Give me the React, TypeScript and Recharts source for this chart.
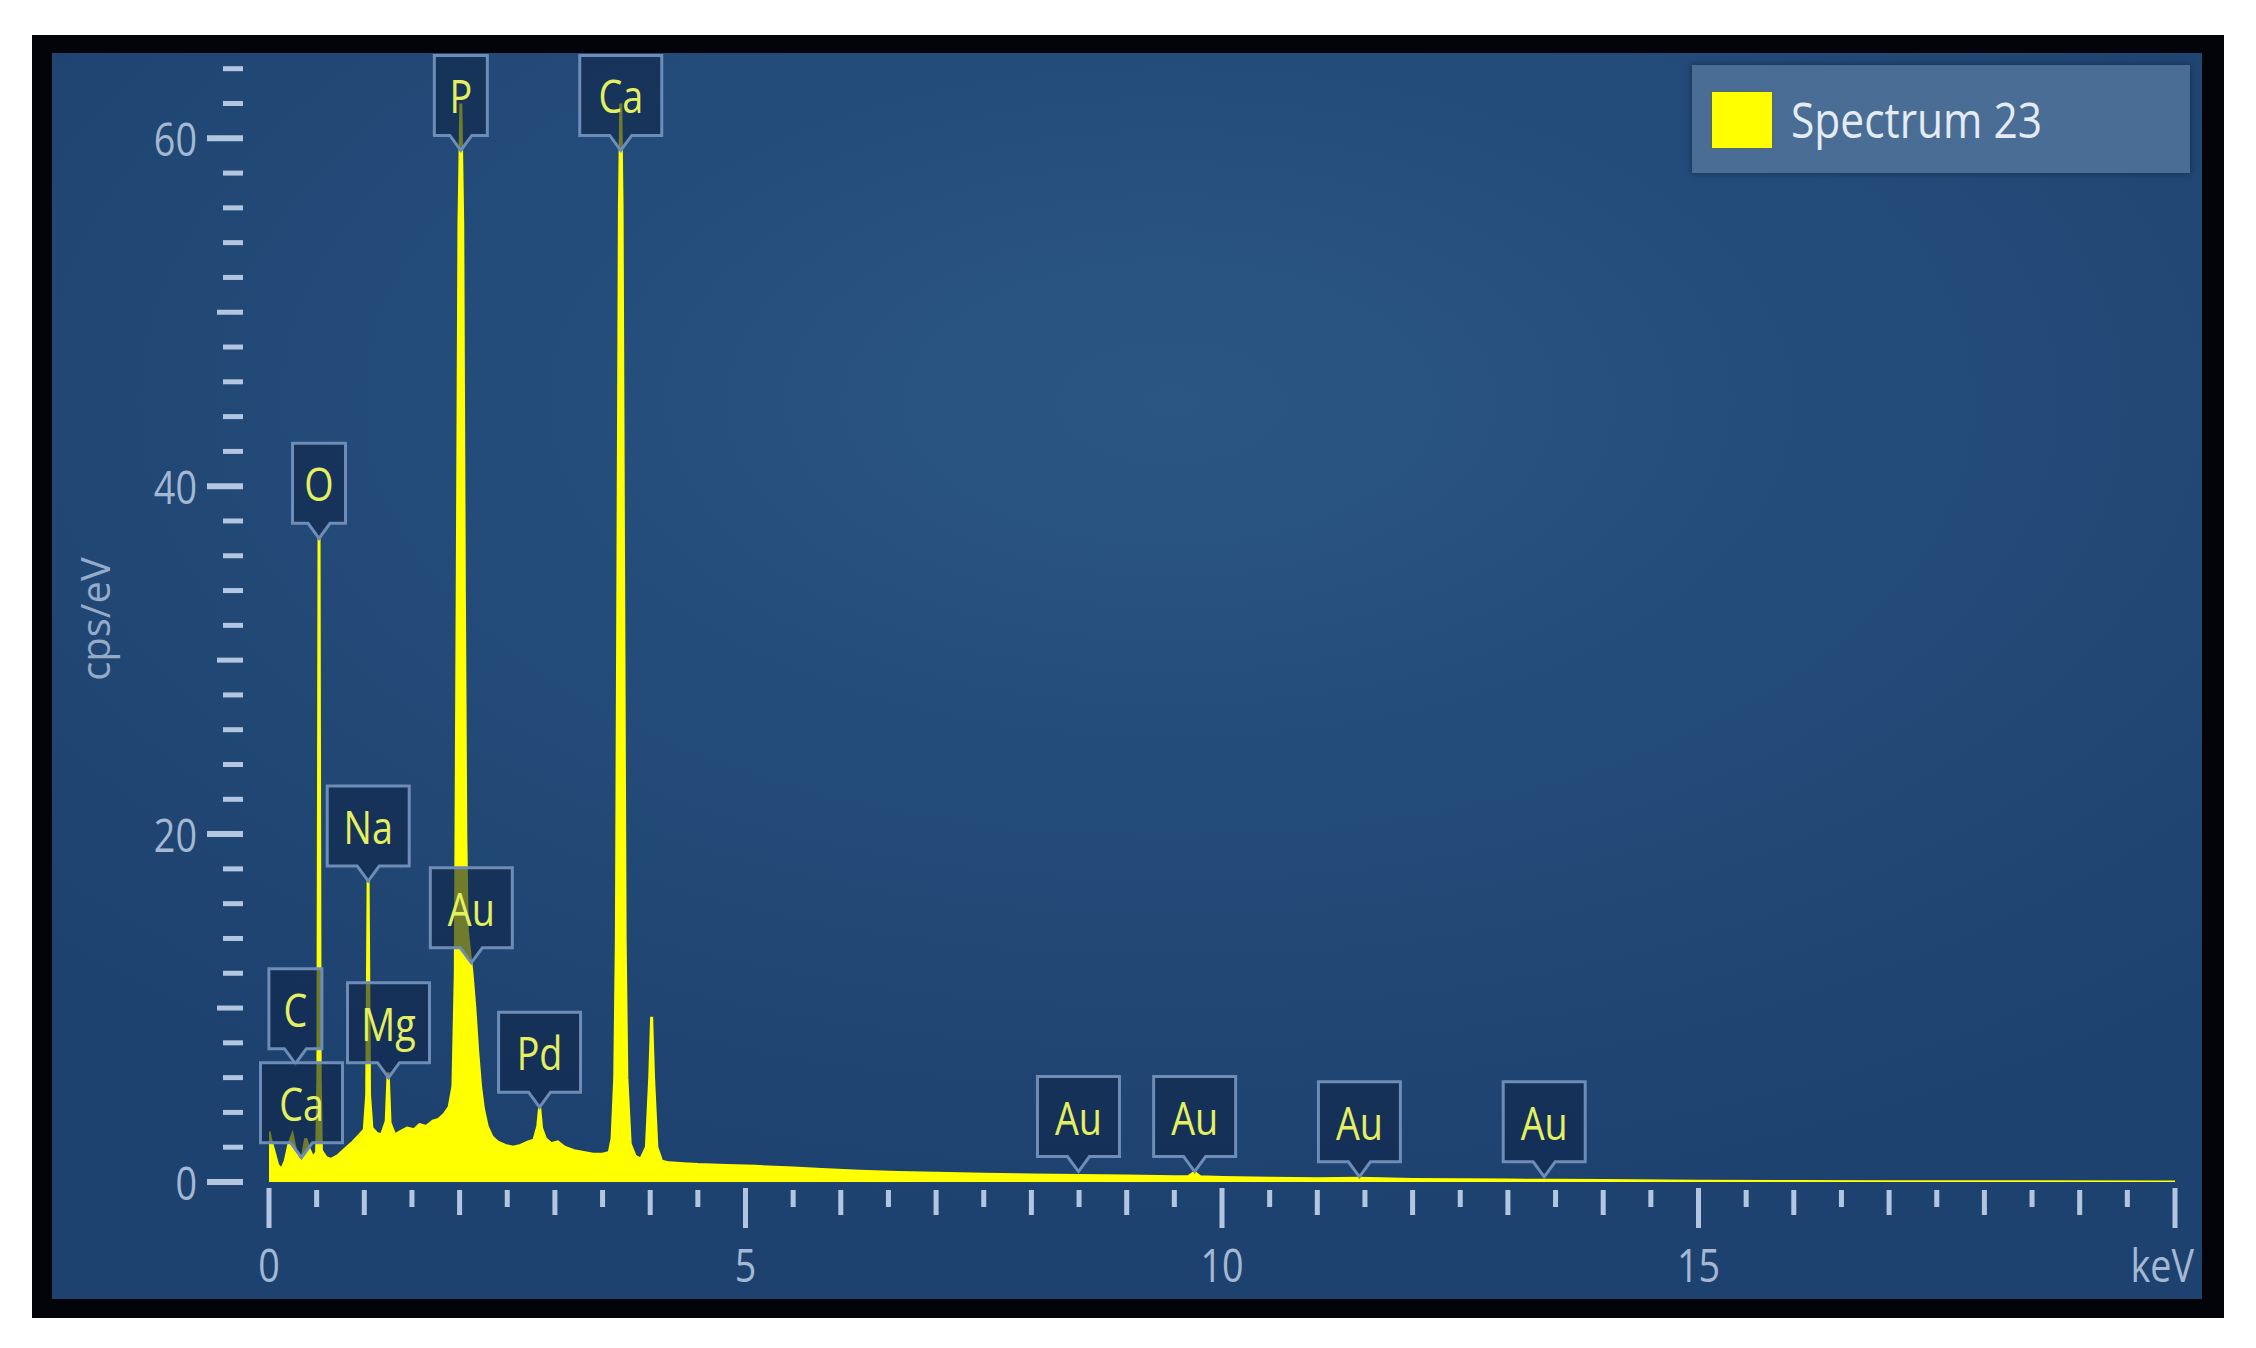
import React from "react";
import { AreaChart, Area, XAxis, YAxis, ReferenceDot } from "recharts";

// spectrum (keV / cps per eV)
const energies = [
  0.0, 0.02, 0.05, 0.09, 0.13, 0.17, 0.21, 0.245, 0.28, 0.32, 0.355, 0.385, 0.42, 0.46,
  0.5, 0.513, 0.525, 0.537, 0.55, 0.6, 0.65, 0.72, 0.8, 0.88, 0.95, 1.0, 1.025, 1.04,
  1.055, 1.08, 1.13, 1.18, 1.23, 1.25, 1.27, 1.32, 1.38, 1.45, 1.52, 1.58, 1.65, 1.72,
  1.78, 1.84, 1.89, 1.93, 1.955, 1.975, 1.993, 2.013, 2.033, 2.05, 2.065, 2.08, 2.11, 2.13,
  2.16, 2.19, 2.22, 2.25, 2.29, 2.34, 2.4, 2.48, 2.56, 2.64, 2.72, 2.78, 2.82, 2.84,
  2.86, 2.9, 2.96, 3.03, 3.1, 3.2, 3.3, 3.4, 3.5, 3.57, 3.6, 3.628, 3.645, 3.662, 3.677,
  3.691, 3.705, 3.72, 3.737, 3.755, 3.79, 3.84, 3.9, 3.96, 3.995, 4.015, 4.035, 4.07,
  4.12, 4.2, 4.35, 4.5, 4.8, 5.1, 5.5, 5.8, 6.2, 6.6, 7.0, 7.5, 8.0, 8.5, 9.0, 9.5,
  9.65, 9.71, 9.77, 10.0, 10.5, 11.0, 11.44, 12.0, 12.5, 13.0, 13.5, 14.0, 15.0, 16.0,
  17.0, 18.0, 20.0,
];
const counts = [
  2.9, 2.4, 1.8, 1.0, 0.7, 1.2, 2.2, 2.7, 1.8, 1.1, 1.6, 2.5, 1.9, 1.4,
  1.7, 6.0, 37.0, 6.0, 1.8, 1.4, 1.3, 1.5, 1.9, 2.3, 2.7, 3.0, 5.0, 17.3,
  5.0, 3.1, 2.8, 2.7, 3.5, 6.3, 3.4, 2.7, 2.9, 3.1, 3.0, 3.3, 3.2, 3.5,
  3.6, 3.9, 4.3, 5.5, 12, 34, 55, 62, 55, 34, 20, 14.5, 13, 12,
  10, 7.5, 5.5, 4.2, 3.2, 2.6, 2.3, 2.1, 2.0, 2.1, 2.3, 2.4, 3.2, 4.3,
  3.1, 2.5, 2.2, 2.3, 2.0, 1.8, 1.7, 1.6, 1.6, 1.7, 2.5, 6.0, 14, 36, 56,
  62, 56, 36, 14, 6.0, 2.2, 1.5, 1.3, 2.0, 6.0, 9.5, 6.0, 2.0,
  1.2, 1.1, 1.05, 1.0, 0.95, 0.9, 0.8, 0.72, 0.62, 0.55, 0.5, 0.45, 0.4, 0.38, 0.34, 0.3,
  0.32, 0.55, 0.3, 0.26, 0.22, 0.19, 0.22, 0.15, 0.13, 0.11, 0.1, 0.08, 0.05, 0.03,
  0.02, 0.01, 0.0,
];

// element tags: name, line energy, cps at the tag's pointer
const peakNames = ["C", "Ca", "O", "Na", "Mg", "P", "Au", "Pd", "Ca", "Au", "Au", "Au", "Au"];
const peakEnergies = [0.277, 0.341, 0.525, 1.041, 1.254, 2.013, 2.123, 2.839, 3.691, 8.494, 9.713, 11.442, 13.381];
const peakTips = [6.8, 1.4, 37.0, 17.3, 6.0, 59.3, 12.6, 4.3, 59.3, 0.6, 0.6, 0.3, 0.3];

const xTicks = [
  0, 0.5, 1, 1.5, 2, 2.5, 3, 3.5, 4, 4.5, 5, 5.5, 6, 6.5, 7, 7.5, 8, 8.5, 9, 9.5, 10,
  10.5, 11, 11.5, 12, 12.5, 13, 13.5, 14, 14.5, 15, 15.5, 16, 16.5, 17, 17.5, 18, 18.5,
  19, 19.5, 20,
];
const xTickLabels: Record<number, string> = { 0: "0", 5: "5", 10: "10", 15: "15", 20: "keV" };
const yTicks = [
  0, 2, 4, 6, 8, 10, 12, 14, 16, 18, 20, 22, 24, 26, 28, 30, 32, 34, 36, 38, 40, 42, 44,
  46, 48, 50, 52, 54, 56, 58, 60, 62, 64,
];
const yTickLabels: Record<number, string> = { 0: "0", 20: "20", 40: "40", 60: "60" };

const data = energies.map((e, i) => ({ keV: e, cps: counts[i] }));

const TICK = "#b2c6e0";
const LABEL = "#a3b8d3";
const FONT = "'Open Sans', sans-serif";

const YTick = (props: any) => {
  const { x, y, payload } = props;
  const v = payload.value;
  const major = v % 20 === 0;
  const mid = v % 10 === 0;
  const x1 = major ? x - 62 : mid ? x - 52 : x - 46;
  return (
    <g>
      <line x1={x1} x2={x - 26} y1={y} y2={y} stroke={TICK} strokeWidth={major ? 6 : 5} />
      {yTickLabels[v] !== undefined && (
        <text
          transform={`translate(${x - 72},${y}) scale(0.82,1)`}
          textAnchor="end"
          dominantBaseline="central"
          fontSize={46}
          fontFamily={FONT}
          fill={LABEL}
        >
          {yTickLabels[v]}
        </text>
      )}
    </g>
  );
};

const XTick = (props: any) => {
  const { x, y, payload } = props;
  const v = payload.value;
  const major = v % 5 === 0;
  const whole = Number.isInteger(v);
  const y1 = y + (major ? 6 : 8);
  const y2 = y + (major ? 46 : whole ? 33 : 25);
  const label = xTickLabels[v];
  const isUnit = label === "keV";
  return (
    <g>
      <line x1={x} x2={x} y1={y1} y2={y2} stroke={TICK} strokeWidth={5} />
      {label !== undefined && (
        <text
          transform={`translate(${isUnit ? x + 19 : x},${y + 82}) scale(0.82,1)`}
          textAnchor={isUnit ? "end" : "middle"}
          dominantBaseline="central"
          fontSize={46}
          fontFamily={FONT}
          fill={LABEL}
        >
          {label}
        </text>
      )}
    </g>
  );
};

const peakTag = (name: string) => (props: any) => {
  const { cx, cy } = props;
  const w = 24 + 29 * name.length;
  const bodyH = 80;
  const tipH = 15;
  const bottom = cy - tipH;
  const top = bottom - bodyH;
  const l = cx - w / 2;
  const r = cx + w / 2;
  const d = `M${l},${top} H${r} V${bottom} H${cx + 11} L${cx},${cy} L${cx - 11},${bottom} H${l} Z`;
  return (
    <g>
      <path d={d} fill="#0f2547" fillOpacity={0.6} stroke="#6d8cb6" strokeWidth={3} />
      <text
        transform={`translate(${cx},${top + bodyH / 2}) scale(0.82,1)`}
        textAnchor="middle"
        dominantBaseline="central"
        fontSize={46}
        fontFamily={FONT}
        fill="#e4f060"
      >
        {name}
      </text>
    </g>
  );
};

export default function App() {
  return (
    <div
      style={{
        position: "absolute",
        left: 0,
        top: 0,
        width: 2256,
        height: 1348,
        background: "#ffffff",
        fontFamily: FONT,
        overflow: "hidden",
      }}
    >
      <div style={{ position: "absolute", left: 32, top: 35, width: 2192, height: 1283, background: "#03040a" }} />
      <div
        style={{
          position: "absolute",
          left: 52,
          top: 53,
          width: 2150,
          height: 1246,
          background:
            "radial-gradient(ellipse 70% 65% at 52% 28%, #2b5684 0%, #244c7a 45%, #1e426f 100%)",
        }}
      />
      <div style={{ position: "absolute", left: 0, top: 0 }}>
        <AreaChart
          width={2256}
          height={1348}
          data={data}
          margin={{ top: 60, right: 81, left: 69, bottom: 46 }}
        >
          <XAxis
            dataKey="keV"
            type="number"
            domain={[0, 20]}
            ticks={xTicks}
            interval={0}
            height={120}
            axisLine={false}
            tickLine={false}
            tickSize={0}
            tickMargin={0}
            tick={<XTick />}
            allowDataOverflow
          />
          <YAxis
            type="number"
            domain={[0, 64.5]}
            ticks={yTicks}
            interval={0}
            width={200}
            axisLine={false}
            tickLine={false}
            tickSize={0}
            tickMargin={0}
            tick={<YTick />}
            allowDataOverflow
          />
          <Area
            type="linear"
            dataKey="cps"
            stroke="#ffff00"
            strokeWidth={3}
            fill="#ffff00"
            fillOpacity={1}
            baseValue={0}
            isAnimationActive={false}
          />
          {peakNames.map((n, i) => (
            <ReferenceDot
              key={i}
              x={peakEnergies[i]}
              y={peakTips[i]}
              r={0}
              ifOverflow="visible"
              shape={peakTag(n)}
            />
          ))}
        </AreaChart>
      </div>
      <div
        style={{
          position: "absolute",
          left: 94,
          top: 619,
          transform: "translate(-50%, -50%) rotate(-90deg)",
          color: "#93abc9",
          fontSize: 40,
          whiteSpace: "nowrap",
        }}
      >
        cps/eV
      </div>
      <div
        style={{
          position: "absolute",
          left: 1692,
          top: 65,
          width: 498,
          height: 108,
          background: "#4a6d96",
          boxShadow: "0 0 6px rgba(10,25,50,0.6)",
        }}
      >
        <div
          style={{
            position: "absolute",
            left: 20,
            top: 27,
            width: 60,
            height: 56,
            background: "#ffff00",
            boxShadow: "0 0 3px #556b2f",
          }}
        />
        <div
          style={{
            position: "absolute",
            left: 99,
            top: 54,
            transform: "translateY(-50%) scale(0.85,1)",
            transformOrigin: "left center",
            color: "#e4ebf5",
            fontSize: 50,
            whiteSpace: "nowrap",
          }}
        >
          Spectrum 23
        </div>
      </div>
    </div>
  );
}
